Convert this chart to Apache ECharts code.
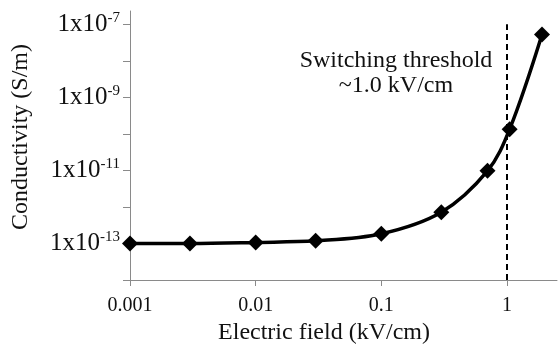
<!DOCTYPE html>
<html>
<head>
<meta charset="utf-8">
<script src="https://cdn.jsdelivr.net/npm/echarts@6/dist/echarts.min.js"></script>
<style>
  html, body { margin: 0; padding: 0; background: #fff; }
  #chart { width: 558px; height: 345px; }
</style>
</head>
<body>
<div id="chart"></div>
<script>
// electric field (kV/cm) and conductivity (S/m)
const fieldKV = [0.001, 0.003, 0.01, 0.03, 0.1, 0.3, 0.7, 1.05, 1.9];
const conductivity = [1e-13, 1e-13, 1.07e-13, 1.18e-13, 1.85e-13, 7.2e-13, 9.8e-12, 1.35e-10, 5.3e-8];

const xTicks = [0.001, 0.01, 0.1, 1];
const yTicks = [1e-14, 1e-13, 1e-12, 1e-11, 1e-10, 1e-9, 1e-8, 1e-7];
const yLabels = [1e-13, 1e-11, 1e-9, 1e-7];

const thresholdX = 1;
const thresholdSpan = [1e-14, 1e-7];

const serif = '"Liberation Serif", "Times New Roman", serif';
const axisGray = '#8a8a8a';

const chart = echarts.init(document.getElementById('chart'));

chart.setOption({
  backgroundColor: '#fff',
  animation: false,
  grid: { left: 130, right: 1, top: 11, bottom: 65 },
  xAxis: {
    type: 'log',
    min: 0.001,
    max: 2.5,
    axisLine: { lineStyle: { color: axisGray, width: 1 } },
    axisTick: { show: true, length: 6, lineStyle: { color: axisGray }, customValues: xTicks },
    axisLabel: {
      customValues: xTicks,
      margin: 16,
      color: '#111',
      fontSize: 20,
      fontFamily: serif,
      formatter: (v) => String(v)
    },
    splitLine: { show: false }
  },
  yAxis: {
    type: 'log',
    min: 1e-14,
    max: Math.pow(10, -6.634),
    axisLine: { show: true, lineStyle: { color: axisGray, width: 1 } },
    axisTick: { show: true, length: 7, lineStyle: { color: axisGray }, customValues: yTicks },
    axisLabel: {
      customValues: yLabels,
      margin: 10,
      color: '#111',
      fontFamily: serif,
      formatter: (v) => '{b|1x10}{s|' + Math.round(Math.log10(v)) + '}',
      rich: {
        b: { fontSize: 25, fontFamily: serif, color: '#111', lineHeight: 28 },
        s: { fontSize: 15, fontFamily: serif, color: '#111', verticalAlign: 'top', lineHeight: 15, padding: [0, 0, 10, 0] }
      }
    },
    splitLine: { show: false }
  },
  series: [
    {
      type: 'line',
      data: fieldKV.map((x, i) => [x, conductivity[i]]),
      smooth: 0.35,
      symbol: 'diamond',
      symbolSize: 16,
      lineStyle: { color: '#000', width: 3.5 },
      itemStyle: { color: '#000' },
      markLine: {
        silent: true,
        symbol: 'none',
        label: { show: false },
        lineStyle: { color: '#000', width: 2, type: [6, 4] },
        data: [[{ coord: [thresholdX, thresholdSpan[0]] }, { coord: [thresholdX, thresholdSpan[1]] }]]
      }
    }
  ],
  graphic: [
    {
      type: 'text',
      x: 324,
      y: 333,
      style: {
        text: 'Electric field (kV/cm)',
        fontSize: 24,
        fontFamily: serif,
        fill: '#111',
        align: 'center',
        verticalAlign: 'middle'
      }
    },
    {
      type: 'text',
      x: 21,
      y: 137,
      rotation: Math.PI / 2,
      style: {
        text: 'Conductivity (S/m)',
        fontSize: 24,
        fontFamily: serif,
        fill: '#111',
        align: 'center',
        verticalAlign: 'middle'
      }
    },
    {
      type: 'text',
      x: 396,
      y: 73,
      style: {
        text: 'Switching threshold\n~1.0 kV/cm',
        fontSize: 24,
        lineHeight: 25,
        fontFamily: serif,
        fill: '#111',
        align: 'center',
        verticalAlign: 'middle'
      }
    }
  ]
});
</script>
</body>
</html>
